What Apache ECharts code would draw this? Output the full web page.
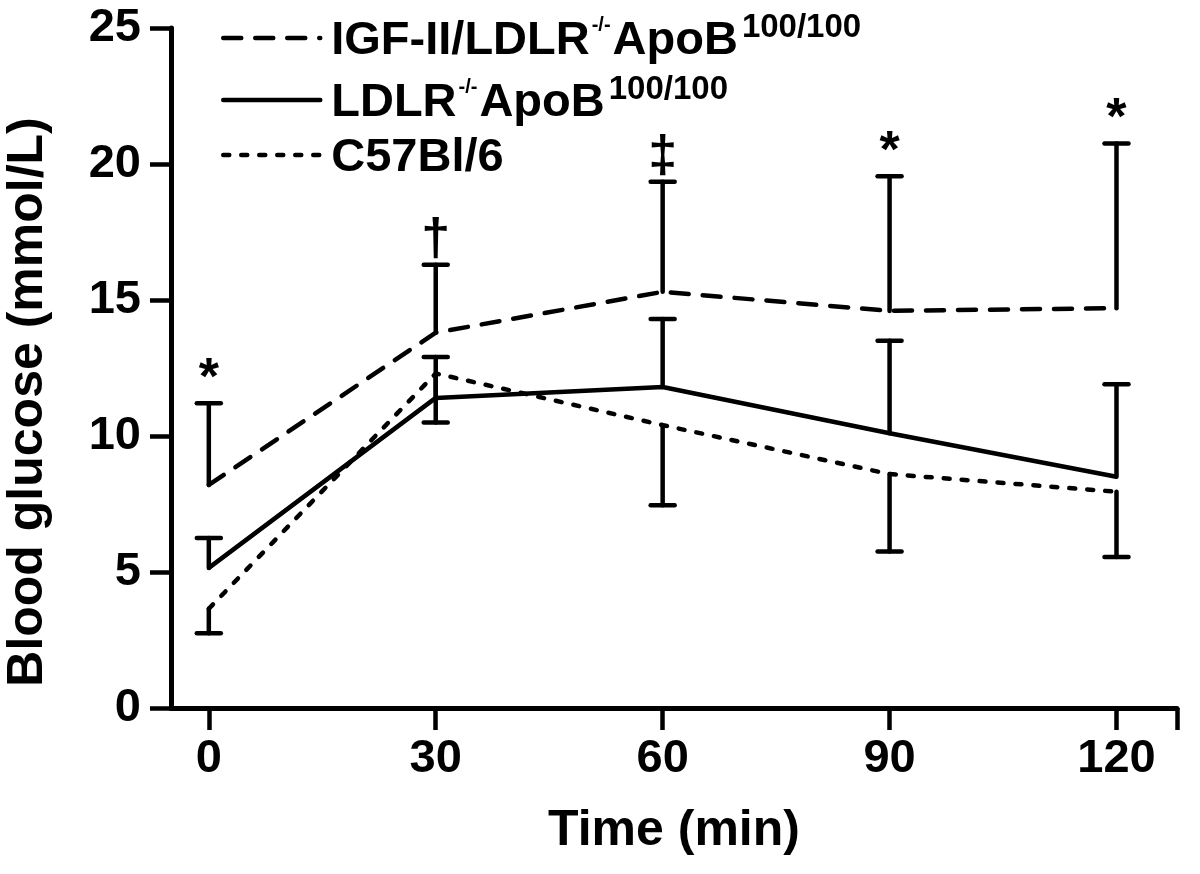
<!DOCTYPE html>
<html><head><meta charset="utf-8">
<script src="https://cdn.jsdelivr.net/npm/echarts@6/dist/echarts.min.js"></script>
<style>html,body{margin:0;padding:0;background:#fff}#c{width:1200px;height:874px}</style>
</head><body><div id="c"></div>
<script>
const times = [0, 30, 60, 90, 120];
const igfMean = [8.2, 13.8, 15.3, 14.6, 14.7];
const igfUpper = [11.2, 16.3, 19.35, 19.55, 20.75];
const ldlrMean = [5.15, 11.4, 11.8, 10.1, 8.5];
const ldlrUpper = [6.25, 12.9, 14.3, 13.5, 11.9];
const c57Mean = [3.65, 12.3, 10.4, 8.6, 7.95];
const c57Lower = [2.75, 10.5, 7.45, 5.75, 5.55];
const marks = ['*', '\u2020', '\u2021', '*', '*'];
const xTickLabels = [0, 30, 60, 90, 120];
const yTickLabels = [0, 5, 10, 15, 20, 25];
const names = ['IGF-II/LDLR-/-ApoB100/100', 'LDLR-/-ApoB100/100', 'C57Bl/6'];

const FONT = "'Liberation Sans', Arial, sans-serif";
const LW = 4.5;

function errRender(params, api) {
  const x = api.value(0), m = api.value(1), b = api.value(2);
  const p0 = api.coord([x, m]), p1 = api.coord([x, b]);
  const w = 12;
  const st = { stroke: '#000', lineWidth: LW, lineCap: 'round' };
  return { type: 'group', children: [
    { type: 'line', shape: { x1: p0[0], y1: p0[1], x2: p1[0], y2: p1[1] }, style: st },
    { type: 'line', shape: { x1: p1[0] - w, y1: p1[1], x2: p1[0] + w, y2: p1[1] }, style: st }
  ]};
}
function pairs(a) { return times.map((t, i) => [t, a[i]]); }
function triples(a, b) { return times.map((t, i) => [t, a[i], b[i]]); }

const chart = echarts.init(document.getElementById('c'));
chart.setOption({
  animation: false,
  backgroundColor: '#fff',
  grid: { left: 171, right: 23, top: 28, bottom: 166, containLabel: false, outerBoundsMode: 'none' },
  legend: {
    orient: 'vertical', left: 216, top: 6, itemWidth: 97, itemHeight: 20, itemGap: 8,
    data: names.map(n => ({ name: n, itemStyle: { opacity: 0 } })),
    lineStyle: { width: LW, cap: 'round' },
    formatter: function (n) {
      if (n === names[0]) return '{f|IGF-II/LDLR}{s|-/-}{m|ApoB}{t|100/100}';
      if (n === names[1]) return '{f|LDLR}{s|-/-}{m|ApoB}{t|100/100}';
      return '{f|C57Bl/6}';
    },
    textStyle: {
      rich: {
        f: { fontFamily: FONT, fontWeight: 'bold', fontSize: 47, color: '#000', lineHeight: 54, verticalAlign: 'bottom', padding: [0, 0, 0, 6] },
        m: { fontFamily: FONT, fontWeight: 'bold', fontSize: 47, color: '#000', lineHeight: 54, verticalAlign: 'bottom' },
        s: { fontFamily: FONT, fontWeight: 'bold', fontSize: 20, color: '#000', lineHeight: 54, verticalAlign: 'top', padding: [4, 2, 0, 2] },
        t: { fontFamily: FONT, fontWeight: 'bold', fontSize: 33, color: '#000', lineHeight: 54, verticalAlign: 'top', padding: [0, 0, 0, 4] }
      }
    }
  },
  xAxis: {
    type: 'value', min: -5, max: 128,
    name: 'Time (min)', nameLocation: 'middle', nameGap: 98,
    nameTextStyle: { fontFamily: FONT, fontWeight: 'bold', fontSize: 50, color: '#000' },
    axisLine: { show: true, onZero: false, lineStyle: { color: '#000', width: 5 } },
    axisTick: { show: true, length: 22, lineStyle: { color: '#000', width: 4.5 }, customValues: [0, 30, 60, 90, 120, 128] },
    axisLabel: { show: true, margin: 28, customValues: xTickLabels, fontFamily: FONT, fontWeight: 'bold', fontSize: 47, color: '#000' },
    splitLine: { show: false }
  },
  yAxis: {
    type: 'value', min: 0, max: 25, interval: 5,
    name: 'Blood glucose (mmol/L)', nameLocation: 'middle', nameGap: 118,
    nameTextStyle: { fontFamily: FONT, fontWeight: 'bold', fontSize: 50, color: '#000', padding: [0, 68, 0, 0] },
    axisLine: { show: true, onZero: false, lineStyle: { color: '#000', width: 5 } },
    axisTick: { show: true, length: 21, lineStyle: { color: '#000', width: 4.5 } },
    axisLabel: { show: true, margin: 30, customValues: yTickLabels, fontFamily: FONT, fontWeight: 'bold', fontSize: 47, color: '#000' },
    splitLine: { show: false }
  },
  series: [
    { name: names[0], type: 'line', data: pairs(igfMean), showSymbol: false, symbol: 'none', z: 3,
      lineStyle: { color: '#000', width: LW, type: [18, 14], cap: 'round' }, itemStyle: { color: '#000' } },
    { name: names[1], type: 'line', data: pairs(ldlrMean), showSymbol: false, symbol: 'none', z: 3,
      lineStyle: { color: '#000', width: LW, type: 'solid' }, itemStyle: { color: '#000' } },
    { name: names[2], type: 'line', data: pairs(c57Mean), showSymbol: false, symbol: 'none', z: 3,
      lineStyle: { color: '#000', width: LW, type: [6, 12], cap: 'round' }, itemStyle: { color: '#000' } },
    { type: 'custom', renderItem: errRender, data: triples(igfMean, igfUpper), encode: { x: 0, y: [1, 2] }, clip: false, z: 4 },
    { type: 'custom', renderItem: errRender, data: triples(ldlrMean, ldlrUpper), encode: { x: 0, y: [1, 2] }, clip: false, z: 4 },
    { type: 'custom', renderItem: errRender, data: triples(c57Mean, c57Lower), encode: { x: 0, y: [1, 2] }, clip: false, z: 4 },
    { type: 'scatter', data: pairs(igfUpper), symbolSize: 0, itemStyle: { color: 'transparent' }, silent: true, z: 5,
      label: { show: true, position: 'top', distance: -2, opacity: 1, textBorderWidth: 0,
        formatter: function (p) { return marks[p.dataIndex]; },
        fontFamily: FONT, fontWeight: 'bold', fontSize: 52, color: '#000' } }
  ]
});
</script></body></html>
